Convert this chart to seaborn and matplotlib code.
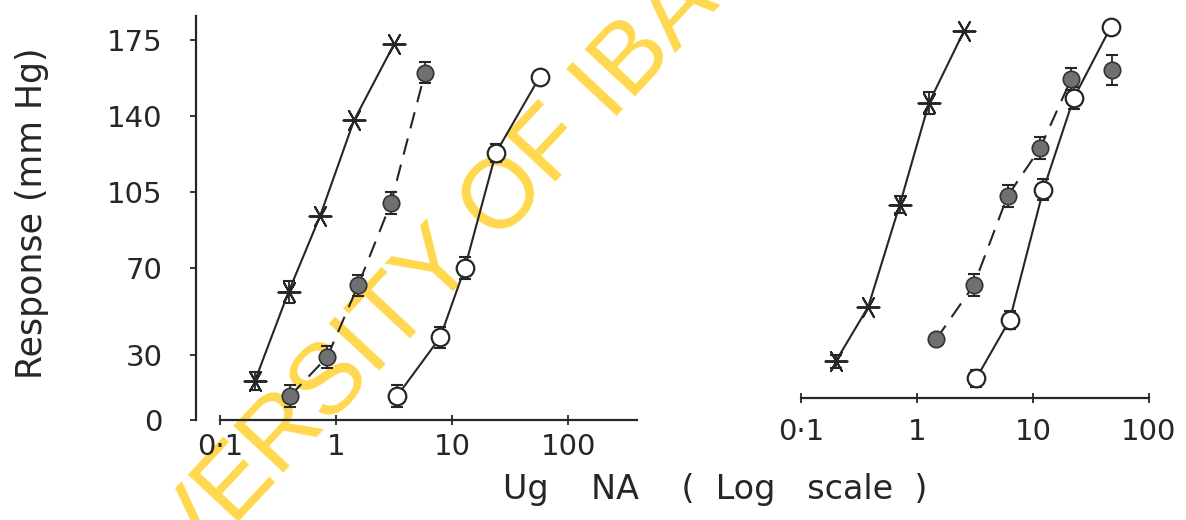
import matplotlib
matplotlib.use("Agg")
import matplotlib.pyplot as plt
import seaborn as sns
import numpy as np

# ---------------- data ----------------
y_ticks = [0, 30, 70, 105, 140, 175]
x_ticks = [0.1, 1, 10, 100]
x_tick_labels_left = ["0\u00b71", "1", "10", "100"]
x_tick_labels_right = ["0\u00b71", "1", "10", "100"]

# left panel
cross_x_L = [0.20, 0.39, 0.73, 1.43, 3.16]
cross_y_L = [18, 59, 94, 138, 173]
cross_e_L = [4, 5, 0, 0, 0]

dot_x_L = [0.40, 0.84, 1.55, 2.98, 5.85]
dot_y_L = [11, 29, 62, 100, 160]
dot_e_L = [5, 5, 5, 5, 5]

open_x_L = [3.36, 7.9, 12.9, 23.9, 57]
open_y_L = [11, 38, 70, 123, 158]
open_e_L = [5, 5, 5, 4, 0]

# right panel
cross_x_R = [0.20, 0.38, 0.71, 1.27, 2.54]
cross_y_R = [17, 42, 89, 136, 169]
cross_e_R = [3, 0, 4, 5, 0]

dot_x_R = [1.46, 3.09, 6.03, 11.5, 21.4, 48]
dot_y_R = [27, 52, 93, 115, 147, 151]
dot_e_R = [0, 5, 5, 5, 5, 7]

open_x_R = [3.24, 6.3, 12.3, 22.4, 47]
open_y_R = [9, 36, 96, 138, 171]
open_e_R = [4, 4, 5, 5, 0]

ylabel = "Response (mm Hg)"
xlabel = "Ug    NA    (  Log   scale  )"
watermark = "UNIVERSITY OF IBADAN LIBRARY"

# ---------------- style ----------------
sns.set_style("ticks")
plt.rcParams["font.family"] = ["DejaVu Sans"]
INK = "#262626"
W, H = 1186, 520
fig = plt.figure(figsize=(W / 100, H / 100), dpi=100)
fig.patch.set_facecolor("white")

PX_PER_UNIT = 380 / 175.0


def fx(px):
    return px / W


def fy(py):
    return 1 - py / H


CROSS = (6, 2, 90)


def draw_series(ax, xs, ys, es, kind, connect=None):
    n = len(xs) if connect is None else connect
    ex = [x for x, e in zip(xs, es) if e > 0]
    ey = [y for y, e in zip(ys, es) if e > 0]
    ee = [e for e in es if e > 0]
    if ee:
        ax.errorbar(ex, ey, yerr=ee, fmt="none", ecolor=INK, elinewidth=1.3,
                    capsize=4, capthick=1.5, zorder=2, clip_on=False)
    ls = "--" if kind == "dot" else "-"
    line_kws = dict(color=INK, linewidth=1.5, linestyle=ls, zorder=1,
                    sort=False, estimator=None, clip_on=False)
    sns.lineplot(x=xs[:n], y=ys[:n], ax=ax, **line_kws)
    if ls == "--":
        ax.lines[-1].set_dashes((8, 5))
    if kind == "cross":
        mk = dict(marker=CROSS, s=250, color=INK, linewidth=1.4)
    elif kind == "dot":
        mk = dict(marker="o", s=140, color="#707070", edgecolor="#333333", linewidth=1.2)
    else:
        mk = dict(marker="o", s=160, color="white", edgecolor=INK, linewidth=1.6)
    sns.scatterplot(x=xs, y=ys, ax=ax, zorder=3, clip_on=False, legend=False, **mk)


# ---------------- left panel ----------------
axL = fig.add_axes([fx(196), fy(420), fx(637 - 196), (420 - 16) / H])
axL.set_facecolor("none")
axL.set_xscale("log")
axL.set_xlim(0.1 * 10 ** (-24 / 116), 0.1 * 10 ** (417 / 116))
axL.set_ylim(0, 404 / PX_PER_UNIT)

draw_series(axL, cross_x_L, cross_y_L, cross_e_L, "cross")
draw_series(axL, dot_x_L, dot_y_L, dot_e_L, "dot")
draw_series(axL, open_x_L, open_y_L, open_e_L, "open")

axL.spines["top"].set_visible(False)
axL.spines["right"].set_visible(False)
axL.spines["bottom"].set_bounds(0.1, axL.get_xlim()[1])
for s in ("left", "bottom"):
    axL.spines[s].set_linewidth(1.6)
    axL.spines[s].set_color(INK)
axL.set_yticks(y_ticks)
axL.set_yticklabels([str(v) for v in y_ticks])
axL.set_xticks(x_ticks)
axL.set_xticklabels(x_tick_labels_left)
axL.xaxis.set_minor_locator(matplotlib.ticker.NullLocator())
axL.tick_params(axis="y", direction="out", length=4, width=1.3, pad=20,
                labelsize=21, colors=INK)
axL.tick_params(axis="x", direction="inout", length=7, width=1.3, pad=6,
                labelsize=21, colors=INK)
axL.set_xlabel("")
axL.set_ylabel("")

# ---------------- right panel ----------------
axR = fig.add_axes([fx(801), fy(398), fx(1149 - 801), 398 / H])
axR.set_facecolor("none")
axR.set_xscale("log")
axR.set_xlim(0.1, 100)
axR.set_ylim(0, 398 / PX_PER_UNIT)

draw_series(axR, cross_x_R, cross_y_R, cross_e_R, "cross")
draw_series(axR, dot_x_R, dot_y_R, dot_e_R, "dot", connect=5)
draw_series(axR, open_x_R, open_y_R, open_e_R, "open")

for s in ("top", "right", "left"):
    axR.spines[s].set_visible(False)
axR.spines["bottom"].set_linewidth(1.6)
axR.spines["bottom"].set_color(INK)
axR.set_yticks([])
axR.set_xticks(x_ticks)
axR.set_xticklabels(x_tick_labels_right)
axR.xaxis.set_minor_locator(matplotlib.ticker.NullLocator())
axR.tick_params(axis="x", direction="inout", length=7, width=1.3, pad=11,
                labelsize=21, colors=INK)
axR.set_xlabel("")
axR.set_ylabel("")

# ---------------- labels ----------------
fig.text(fx(32), fy(213), ylabel, rotation=90, ha="center", va="center",
         fontsize=25, color=INK)
fig.text(fx(715), fy(490), xlabel, ha="center", va="center",
         fontsize=24, color=INK)

# ---------------- watermark (beneath the plot ink) ----------------
fig.text(fx(604), fy(92), watermark, rotation=47, rotation_mode="anchor",
         ha="center", va="center", fontsize=72,
         family=["Liberation Sans", "DejaVu Sans"],
         color="#FFD84F", zorder=-1)

fig.savefig("out.png", dpi=100, facecolor="white")
